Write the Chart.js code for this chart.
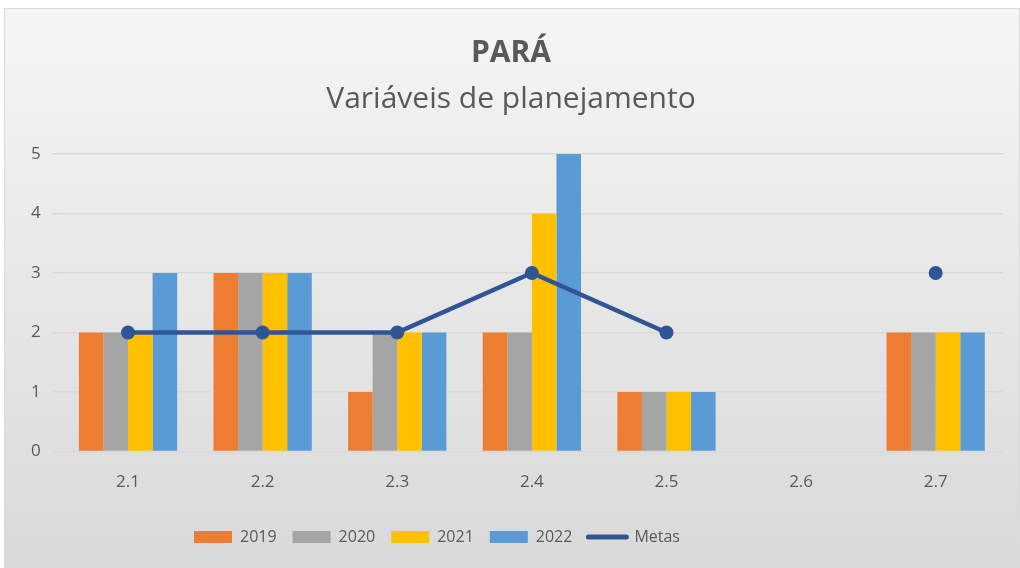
<!DOCTYPE html>
<html><head><meta charset="utf-8">
<script src="https://cdn.jsdelivr.net/npm/chart.js@4"></script>
<style>
html,body{margin:0;padding:0;background:#fff;width:1020px;height:568px;overflow:hidden;}
#wrap{position:absolute;left:4px;top:8px;width:1014px;height:558px;border:1px solid #d9d9d9;
background:linear-gradient(#f5f5f5,#d9d9d9);}
</style></head>
<body>
<div id="wrap"><canvas id="c"></canvas></div>
<script>
const categories = ['2.1','2.2','2.3','2.4','2.5','2.6','2.7'];
const v2019 = [2,3,1,2,1,0,2];
const v2020 = [2,3,2,2,1,0,2];
const v2021 = [2,3,2,4,1,0,2];
const v2022 = [3,3,2,5,1,0,2];
const metas = [2,2,2,3,2,null,3];
const yTicks = [0,1,2,3,4,5];

const FONT = "'Open Sans', sans-serif";
const TXT = '#595959';

function bar(label, data, color){
  return {type:'bar', label, data, backgroundColor:color, borderWidth:0,
    barPercentage:1, categoryPercentage:0.73, order:2, pointStyle:'rect'};
}

const shiftLegend = {
  id:'shiftLegend',
  afterLayout(chart){
    const lg = chart.legend;
    if (lg) { lg.left -= 74; lg.right -= 74; }
  }
};

new Chart(document.getElementById('c'), {
  data: {
    labels: categories,
    datasets: [
      bar('2019', v2019, '#ED7D31'),
      bar('2020', v2020, '#A5A5A5'),
      bar('2021', v2021, '#FFC000'),
      bar('2022', v2022, '#5B9BD5'),
      {type:'line', label:'Metas', data:metas, borderColor:'#2F5597', backgroundColor:'#2F5597',
       borderWidth:4.5, pointRadius:7, pointHoverRadius:7, pointBackgroundColor:'#2F5597',
       pointBorderWidth:0, spanGaps:false, order:1, tension:0, pointStyle:'circle'}
    ]
  },
  plugins:[shiftLegend],
  options: {
    responsive:true, maintainAspectRatio:false, animation:false,
    layout:{padding:{left:14,right:16,top:26,bottom:12}},
    plugins:{
      tooltip:{enabled:false},
      title:{display:true, text:'PARÁ', color:TXT, font:{family:FONT,size:30,weight:'bold'}, padding:{top:0,bottom:10}},
      subtitle:{display:true, text:'Variáveis de planejamento', color:TXT, font:{family:FONT,size:30}, padding:{top:0,bottom:37}},
      legend:{position:'bottom', labels:{
        color:TXT, font:{family:FONT,size:16}, usePointStyle:true, pointStyleWidth:38, boxHeight:12, padding:16,
        generateLabels(chart){
          return chart.data.datasets.map((ds,i)=>({
            text:ds.label,
            fillStyle:ds.backgroundColor,
            strokeStyle: ds.type==='line' ? ds.borderColor : ds.backgroundColor,
            lineWidth: ds.type==='line' ? 5 : 0,
            lineCap:'round',
            pointStyle: ds.type==='line' ? 'line' : 'rect',
            fontColor:TXT,
            hidden:false,
            datasetIndex:i
          }));
        }
      }}
    },
    scales:{
      x:{grid:{display:false}, border:{display:false},
         afterFit(s){ s.height += 9; },
         ticks:{color:TXT, font:{family:FONT,size:17}, padding:12}},
      y:{min:0, max:5, grid:{color:'#d9d9d9', lineWidth:1.5}, border:{display:false},
         afterBuildTicks(s){ s.ticks = yTicks.map(v=>({value:v})); },
         ticks:{color:TXT, font:{family:FONT,size:17}, padding:12}}
    }
  }
});
</script>
</body></html>
